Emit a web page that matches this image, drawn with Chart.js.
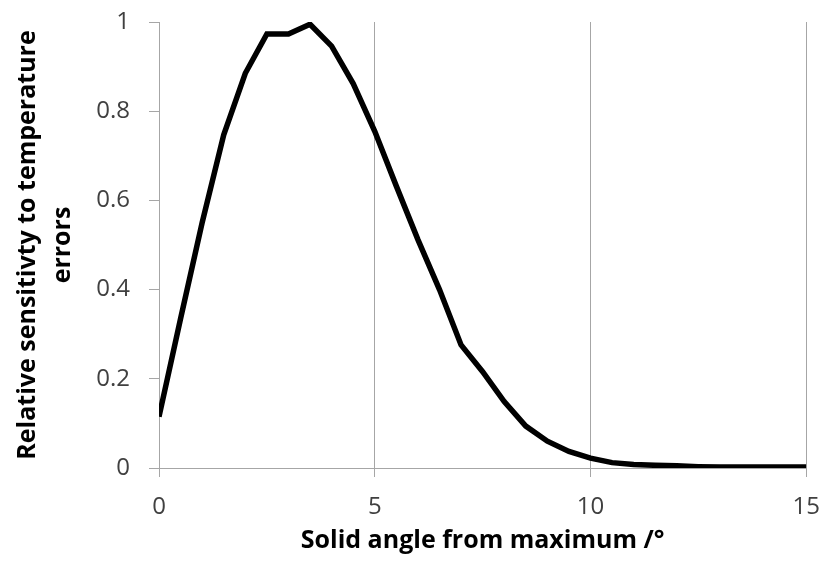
<!DOCTYPE html>
<html>
<head>
<meta charset="utf-8">
<script src="https://cdn.jsdelivr.net/npm/chart.js@4"></script>
<style>
  html, body { margin: 0; padding: 0; background: #fff; }
  #wrap { width: 836px; height: 562px; }
</style>
</head>
<body>
<div id="wrap"><canvas id="myChart" width="836" height="562"></canvas></div>
<script>
// solid angle (deg) and relative sensitivity
const angles = [0, 0.5, 1, 1.5, 2, 2.5, 3, 3.5, 4, 4.5, 5, 5.5, 6, 6.5, 7, 7.5, 8, 8.5, 9, 9.5, 10,
    10.5, 11, 11.5, 12, 12.5, 13, 13.5, 14, 14.5, 15];
const sensitivity = [0.115, 0.335, 0.55, 0.747, 0.885, 0.973, 0.973, 0.995, 0.946, 0.862, 0.755,
    0.632, 0.512, 0.4, 0.276, 0.216, 0.149, 0.094, 0.06, 0.037, 0.022,
    0.012, 0.008, 0.006, 0.005, 0.003, 0.002, 0.002, 0.002, 0.002, 0.002];
const xTicks = [0, 5, 10, 15];
const yTicks = [0, 0.2, 0.4, 0.6, 0.8, 1];

const points = angles.map((a, i) => ({ x: a, y: sensitivity[i] }));

const gridGrey = '#a6a6a6';
const tickText = '#404040';
const fontName = 'Open Sans';

const config = {
    type: 'line',
    data: {
        datasets: [{
            label: 'Relative sensitivity',
            data: points,
            borderColor: '#000',
            borderWidth: 5.5,
            pointRadius: 0,
            tension: 0,
            fill: false
        }]
    },
    options: {
        responsive: false,
        animation: false,
        layout: { padding: { top: 22, right: 28, left: 0, bottom: 0 } },
        plugins: { legend: { display: false }, tooltip: { enabled: false } },
        scales: {
            x: {
                type: 'linear',
                min: 0,
                max: 15,
                afterBuildTicks: s => { s.ticks = xTicks.map(v => ({ value: v })); },
                afterFit: s => { s.height = 94; },
                grid: { color: gridGrey, lineWidth: 1, tickLength: 9 },
                border: { color: gridGrey, width: 1 },
                ticks: { color: tickText, font: { family: fontName, size: 24 }, padding: 16, maxRotation: 0 },
                title: {
                    display: true,
                    text: 'Solid angle from maximum /°',
                    color: '#000',
                    font: { family: fontName, size: 25, weight: 'bold', lineHeight: 1.2 },
                    padding: { top: 0, bottom: 6 }
                }
            },
            y: {
                min: 0,
                max: 1,
                afterBuildTicks: s => { s.ticks = yTicks.map(v => ({ value: v })); },
                afterFit: s => {
                    s.width = 159;
                    // let the plot start right at the layout padding
                    s.paddingTop = 0;
                    s.paddingBottom = 0;
                },
                grid: { drawOnChartArea: false, color: gridGrey, lineWidth: 1, tickLength: 10 },
                border: { color: gridGrey, width: 1 },
                ticks: {
                    color: tickText,
                    font: { family: fontName, size: 24 },
                    padding: 19,
                    callback: v => String(+v.toFixed(1))
                },
                title: {
                    display: true,
                    text: ['Relative sensitivty to temperature', 'errors'],
                    color: '#000',
                    font: { family: fontName, size: 25, weight: 'bold', lineHeight: 1.4 },
                    padding: { top: 10, bottom: 0 }
                }
            }
        }
    }
};

const myChart = new Chart(document.getElementById('myChart'), config);
</script>
</body>
</html>
